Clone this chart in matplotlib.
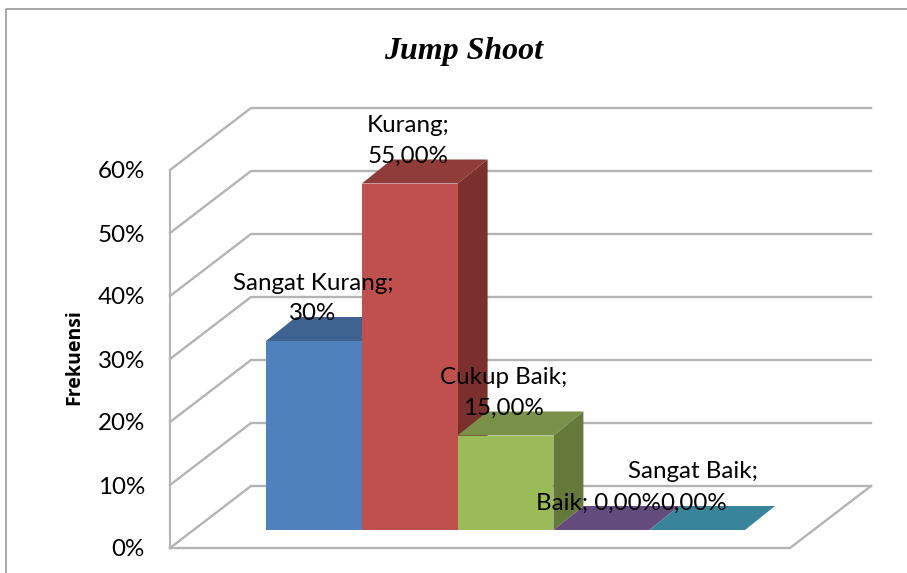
import matplotlib
matplotlib.use("Agg")
import matplotlib.pyplot as plt

categories = ["Sangat Kurang", "Kurang", "Cukup Baik", "Baik", "Sangat Baik"]
values = [30, 55, 15, 0, 0]
value_labels = ["30%", "55,00%", "15,00%", "0,00%", "0,00%"]
y_ticks = [0, 10, 20, 30, 40, 50, 60]
y_tick_labels = ["0%", "10%", "20%", "30%", "40%", "50%", "60%"]

front_colors = ["#4F81BD", "#C0504D", "#9BBB59", "#8064A2", "#4BACC6"]
top_colors = ["#3E6390", "#8F3C3A", "#789048", "#634B7E", "#38849A"]
side_colors = ["#33527A", "#7B302E", "#65793A", "#523E69", "#2E6E80"]

# the figure is drawn in pixel coordinates, y pointing down
fig = plt.figure(figsize=(9.07, 5.73), dpi=100)
ax = fig.add_axes([0, 0, 1, 1])
ax.set_xlim(0, 907)
ax.set_ylim(573, 0)
ax.axis("off")

label_font = "Lato"
label_size = 17.4
grid_color = "#b4b4b4"

# projection of the 3d box
x0, x1 = 170, 790
y0 = 548
px_per_pct = 6.3
deep_x, deep_y = 81, -62


def wall_y(v):
    return y0 - v * px_per_pct


# outer frame of the picture
ax.plot([6, 6, 907], [573, 9, 9], color="#8f8f8f", lw=1.1, zorder=1)

# walls and gridlines
ax.plot([x0, x0], [wall_y(0), wall_y(y_ticks[-1])], color=grid_color, lw=1.5, zorder=1)
for v, lab in zip(y_ticks, y_tick_labels):
    y = wall_y(v)
    ax.plot([x0, x0 + deep_x, x1 + deep_x], [y, y + deep_y, y + deep_y],
            color=grid_color, lw=1.7, solid_joinstyle="miter", zorder=1)
    ax.text(145, y + 2, lab, ha="right", va="center", fontsize=label_size, family=label_font, color="black")

# floor
ax.plot([x0, x1, x1 + deep_x], [y0, y0, y0 + deep_y], color=grid_color, lw=1.7,
        solid_joinstyle="miter", zorder=1)

# bars
bar_x0 = 266
bar_w = 95.8
bar_base = 530
bar_scale = 6.3
bar_dx, bar_dy = 30, -24
label_dx = [-1, -2, -2, -3, -4]
line_gap = 31

for i, v in enumerate(values):
    left = bar_x0 + i * bar_w
    right = left + bar_w
    top = bar_base - v * bar_scale
    z = 2 + i
    ax.fill([right, right + bar_dx, right + bar_dx, right],
            [bar_base, bar_base + bar_dy, top + bar_dy, top], color=side_colors[i], lw=0, zorder=z)
    ax.fill([left, right, right + bar_dx, left + bar_dx],
            [top, top, top + bar_dy, top + bar_dy], color=top_colors[i], lw=0, zorder=z)
    if v > 0:
        ax.fill([left, right, right, left], [bar_base, bar_base, top, top],
                color=front_colors[i], lw=0, zorder=z)

# data labels sit on top of the bars
for i, v in enumerate(values):
    cx = bar_x0 + (i + 0.5) * bar_w + label_dx[i]
    y2 = bar_base - v * bar_scale - 28
    if categories[i] == "Baik":
        ax.text(cx, y2 + 1, categories[i] + "; " + value_labels[i], ha="center", va="center",
                fontsize=label_size, family=label_font, zorder=10)
    else:
        ax.text(cx, y2 + 1 - line_gap, categories[i] + ";", ha="center", va="center",
                fontsize=label_size, family=label_font, zorder=10)
        ax.text(cx, y2 + 1, value_labels[i], ha="center", va="center",
                fontsize=label_size, family=label_font, zorder=10)

ax.text(464, 52, "Jump Shoot", ha="center", va="center", fontsize=23, family="Liberation Serif",
        weight="bold", style="italic")
ax.text(74, 357, "Frekuensi", rotation=90, ha="center", va="center", fontsize=14,
        family="Open Sans", weight="bold")

fig.savefig("out.png", dpi=100)
